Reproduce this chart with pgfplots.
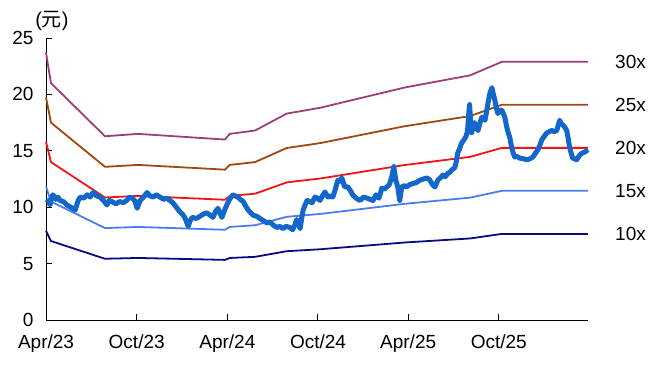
\documentclass[border=0pt]{standalone}
\usepackage{pgfplots}
\pgfplotsset{compat=1.18}
\usepackage{fontspec}
\setmainfont{Liberation Sans}
\newfontfamily\cjk{Noto Sans CJK SC}
\definecolor{c30}{RGB}{158,62,120}
\definecolor{c25}{RGB}{160,72,15}
\definecolor{c20}{RGB}{240,20,20}
\definecolor{c15}{RGB}{75,125,240}
\definecolor{c10}{RGB}{10,10,130}
\definecolor{cp}{RGB}{18,102,204}
\begin{document}
\begin{tikzpicture}
\begin{axis}[
  width=542pt, height=282pt, scale only axis,
  xmin=0, xmax=1094, ymin=0, ymax=25,
  axis lines=left, axis line style={-, line width=1pt},
  xtick={0,183,366,549,731,914},
  xticklabels={Apr/23,Oct/23,Apr/24,Oct/24,Apr/25,Oct/25},
  ytick={0,5,10,15,20,25},
  tick align=inside, major tick length=6pt,
  tick style={line width=1pt, black},
  ticklabel style={font=\fontsize{19}{22}\selectfont},
  /pgf/number format/assume math mode=true,
  yticklabel style={xshift=-9pt},
  xticklabel style={yshift=-11pt},
  clip=false,
]
\addplot[c30, line width=1.8pt] coordinates {(0,23.7)(10,21.0)(119,16.29)(186,16.5)(361,16.0)(371,16.5)(422,16.8)(486,18.3)(553,18.81)(724,20.61)(856,21.69)(920,22.89)(1094,22.89)};
\addplot[c25, line width=1.8pt] coordinates {(0,19.75)(10,17.5)(119,13.58)(186,13.75)(361,13.33)(371,13.75)(422,14.0)(486,15.25)(553,15.68)(724,17.18)(856,18.08)(920,19.08)(1094,19.08)};
\addplot[c20, line width=1.8pt] coordinates {(0,15.8)(10,14.0)(119,10.86)(186,11.0)(361,10.66)(371,11.0)(422,11.2)(486,12.2)(553,12.54)(724,13.74)(856,14.46)(920,15.26)(1094,15.26)};
\addplot[c15, line width=1.8pt] coordinates {(0,11.85)(10,10.5)(119,8.15)(186,8.25)(361,8.0)(371,8.25)(422,8.4)(486,9.15)(553,9.4)(724,10.3)(856,10.85)(920,11.45)(1094,11.45)};
\addplot[c10, line width=1.8pt] coordinates {(0,7.9)(10,7.0)(119,5.43)(186,5.5)(361,5.33)(371,5.5)(422,5.6)(486,6.1)(553,6.27)(724,6.87)(856,7.23)(920,7.63)(1094,7.63)};
\addplot[cp, line width=5pt, line join=round] coordinates {
(2,10.4)(5,10.6)(8,10.2)(11,10.8)(14,11.1)(20,10.7)(24,10.9)(28,10.6)(35,10.5)(42,10.2)(50,10.0)(59,9.75)(65,10.6)(69,10.9)(76,10.8)(83,11.1)(89,10.9)(95,11.3)(102,11.0)(109,10.9)(116,10.6)(123,10.2)(128,10.6)(133,10.5)(141,10.3)(149,10.5)(156,10.4)(163,10.6)(168,10.9)(174,10.8)(179,10.6)(184,9.9)(190,10.6)(197,10.9)(204,11.3)(210,11.0)(216,10.9)(223,11.1)(230,10.9)(237,10.7)(244,10.8)(250,10.6)(256,10.4)(263,10.0)(270,9.6)(275,9.4)(280,9.1)(287,8.3)(291,8.8)(295,9.1)(303,9.0)(311,9.2)(318,9.4)(325,9.5)(331,9.3)(337,9.1)(342,9.6)(347,9.9)(351,9.5)(355,9.1)(361,9.8)(367,10.4)(372,10.8)(377,11.1)(382,11.0)(387,10.9)(392,10.7)(398,10.5)(403,10.1)(408,9.75)(413,9.5)(418,9.3)(425,9.2)(432,9.0)(439,8.8)(446,8.6)(452,8.7)(459,8.4)(466,8.2)(472,8.3)(478,8.1)(485,8.3)(492,8.2)(498,8.0)(502,8.4)(506,8.9)(510,8.5)(513,8.1)(516,9.0)(519,9.75)(523,10.2)(527,10.6)(532,10.5)(537,10.4)(543,10.9)(548,10.8)(553,10.6)(558,11.0)(563,11.35)(569,10.9)(574,11.0)(579,10.9)(584,11.6)(589,12.4)(593,12.3)(597,12.6)(603,11.8)(609,11.8)(614,11.5)(619,11.1)(626,10.8)(634,10.6)(641,10.9)(648,10.8)(654,10.7)(660,10.6)(666,11.1)(672,10.8)(678,11.7)(683,11.6)(688,11.8)(693,12.0)(698,12.7)(702,13.6)(706,12.4)(710,11.8)(714,10.6)(718,11.8)(723,11.9)(728,11.8)(734,12.0)(741,12.1)(748,12.2)(755,12.4)(762,12.5)(769,12.6)(775,12.4)(780,12.0)(785,11.8)(791,12.4)(796,12.6)(801,12.85)(806,12.7)(811,13.0)(815,13.1)(819,13.3)(825,13.5)(828,14.0)(831,14.8)(835,15.2)(839,15.7)(844,16.0)(848,16.3)(851,16.8)(853,18.2)(855,19.1)(857,17.6)(859,16.6)(862,17.2)(865,17.5)(868,17.0)(872,16.8)(876,17.5)(880,18.0)(883,17.9)(886,17.7)(889,18.4)(892,19.2)(896,20.1)(900,20.6)(903,20.0)(906,19.5)(909,18.8)(912,18.3)(916,18.6)(920,18.6)(923,18.3)(926,18.0)(930,17.1)(933,16.6)(936,16.2)(940,15.3)(943,14.8)(946,14.45)(951,14.5)(956,14.35)(963,14.3)(971,14.2)(977,14.3)(983,14.45)(988,14.8)(993,15.1)(997,15.5)(1001,16.0)(1006,16.3)(1011,16.6)(1016,16.7)(1021,16.8)(1026,16.7)(1031,16.8)(1034,17.3)(1037,17.7)(1040,17.4)(1043,17.3)(1047,17.1)(1051,16.8)(1054,16.1)(1057,15.3)(1060,14.8)(1063,14.35)(1067,14.3)(1071,14.2)(1074,14.4)(1077,14.6)(1082,14.8)(1088,14.9)(1094,15.1)};
\foreach \v/\t in {22.89/30x,19.08/25x,15.26/20x,11.45/15x,7.63/10x}{
  \edef\tmp{\noexpand\node[anchor=west, font=\noexpand\fontsize{19}{22}\noexpand\selectfont, inner sep=0pt] at (axis cs:1094,\v) [xshift=27pt] {\t};}
  \tmp
}
\node[font=\fontsize{20}{24}\selectfont, inner sep=0pt] at (rel axis cs:0.011,1.06) {(\cjk 元\rmfamily)};
\coordinate (bl) at (rel axis cs:-0.0849,-0.1667);
\coordinate (tr) at (rel axis cs:1.1218,1.1348);
\end{axis}
\pgfresetboundingbox
\path (bl) rectangle (tr);
\end{tikzpicture}
\end{document}
